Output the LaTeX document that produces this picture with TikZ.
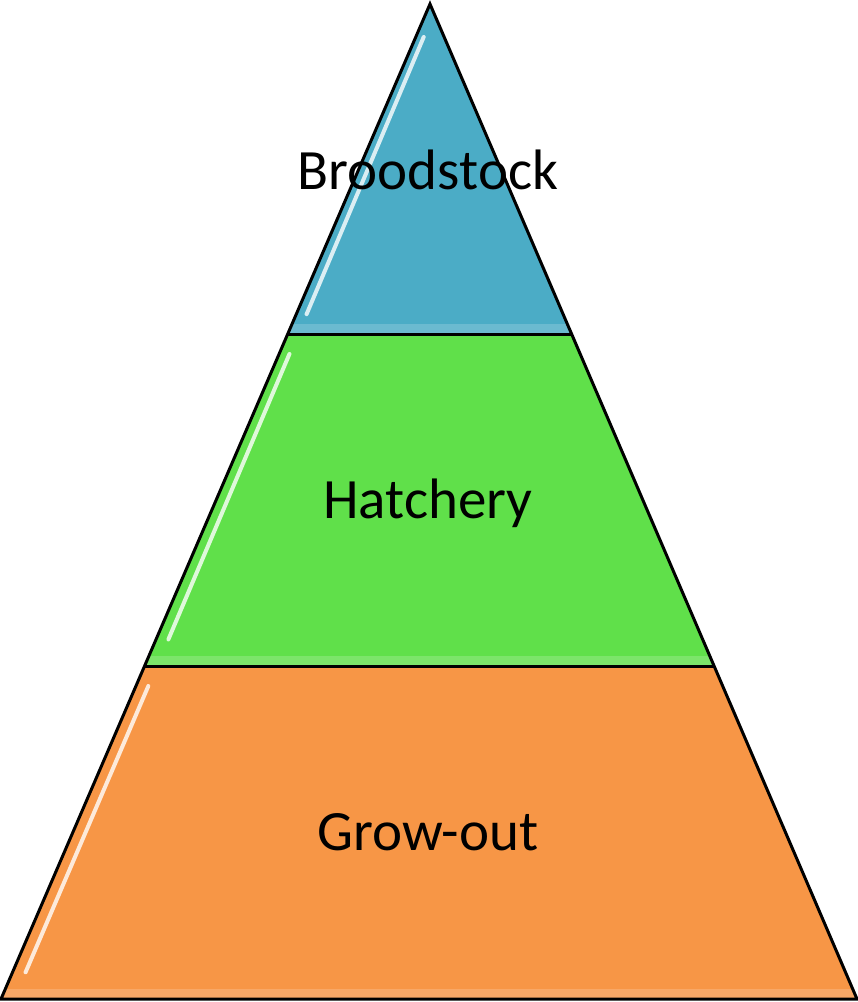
\documentclass[tikz,border=0pt]{standalone}
\usepackage{fontspec}
\setmainfont{Carlito}
\usetikzlibrary{calc}
\definecolor{Tier_Blue}{HTML}{4BACC6}
\definecolor{Tier_Green}{HTML}{60E04A}
\definecolor{Tier_Orange}{HTML}{F79646}

\begin{document}
\begin{tikzpicture}[x=1pt, y=-1pt, line join=miter,
  every node/.style={font=\fontsize{57}{68}\selectfont},
  tierlabel/.style={black},
  gloss/.style={white, line width=4pt, line cap=round, opacity=0.8}]
  \useasboundingbox (0,0) rectangle (858,1002);
  % Pyramid corners and tier boundaries
  \coordinate (apex) at (430,4);
  \coordinate (baseL) at (1,999);
  \coordinate (baseR) at (857,999);
  \coordinate (midL) at (287,334);
  \coordinate (midR) at (572,334);
  \coordinate (lowL) at (145,666);
  \coordinate (lowR) at (714,666);
  % Tier fills
  \fill[Tier_Blue] (apex) -- (midR) -- (midL) -- cycle;
  \fill[Tier_Green] (midL) -- (midR) -- (lowR) -- (lowL) -- cycle;
  \fill[Tier_Orange] (lowL) -- (lowR) -- (baseR) -- (baseL) -- cycle;
  % Glossy streaks along the left edges
  \draw[gloss] ($(midL)!0.06!(apex)+(11,0)$) -- ($(midL)!0.90!(apex)+(8,0)$);
  \draw[gloss] ($(lowL)!0.08!(midL)+(12,0)$) -- ($(lowL)!0.94!(midL)+(11,0)$);
  \draw[gloss] ($(baseL)!0.08!(lowL)+(13,0)$) -- ($(baseL)!0.94!(lowL)+(12,0)$);
  % Soft lighter bands at the bottom of each tier
  \fill[white, opacity=0.18] ($(midL)+(4,-10)$) -- ($(midR)+(-4,-10)$) -- (midR) -- (midL) -- cycle;
  \fill[white, opacity=0.18] ($(lowL)+(4,-10)$) -- ($(lowR)+(-4,-10)$) -- (lowR) -- (lowL) -- cycle;
  \fill[white, opacity=0.18] ($(baseL)+(4,-10)$) -- ($(baseR)+(-4,-10)$) -- (baseR) -- (baseL) -- cycle;
  % Outlines
  \draw[black, line width=3pt] (apex) -- (baseR) -- (baseL) -- cycle;
  \draw[black, line width=3pt] (midL) -- (midR);
  \draw[black, line width=3pt] (lowL) -- (lowR);
  % Labels
  \node[tierlabel] (brood) at (428,170) {Broodstock};
  \node[tierlabel] (hatch) at (428,503) {Hatchery};
  \node[tierlabel] (grow) at (428,832) {Grow-out};
\end{tikzpicture}
\end{document}
